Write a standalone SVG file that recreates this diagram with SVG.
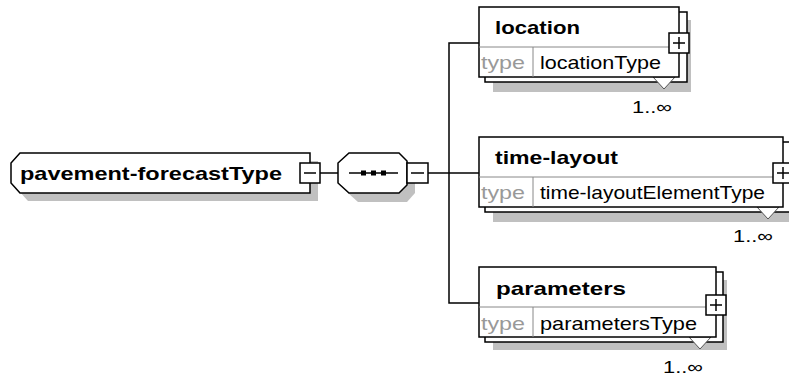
<svg xmlns="http://www.w3.org/2000/svg" width="789" height="378" viewBox="0 0 789 378">
<style>
.shadow{fill:#c0c0c0;stroke:none}
.box{fill:#fff;stroke:#000;stroke-width:1.5}
.sep{stroke:#888;stroke-width:1;fill:none}
.title{font-family:"Liberation Sans",Arial,sans-serif;font-weight:bold;font-size:19px;fill:#000}
.tlabel{font-family:"Liberation Sans",Arial,sans-serif;font-size:19px;fill:#999}
.tval{font-family:"Liberation Sans",Arial,sans-serif;font-size:19px;fill:#000}
.mult{font-family:"Liberation Sans",Arial,sans-serif;font-size:17px;fill:#000}
.btn{fill:#fff;stroke:#000;stroke-width:1.5}
.sign{stroke:#000;stroke-width:1.5;fill:none}
.conn{stroke:#000;stroke-width:1.5;fill:none}
.tri{fill:#fff;stroke:#555;stroke-width:1}
</style>
<g id="connectors">
<line class="conn" x1="320" y1="173" x2="338" y2="173"/>
<line class="conn" x1="428" y1="173" x2="479" y2="173"/>
<polyline class="conn" points="479,43 449,43 449,303 479,303"/>
</g>
<g id="root">
<polygon class="shadow" points="28,161 318,161 318,201 28,201 19,191 19,171"/>
<polygon class="box" points="20,153 310,153 310,193 20,193 11,183 11,163"/>
<text class="title" x="20" y="180" textLength="262" lengthAdjust="spacingAndGlyphs">pavement-forecastType</text>
<rect class="btn" x="300" y="163" width="20" height="20"/>
<line class="sign" x1="304" y1="173" x2="316" y2="173"/>
</g>
<g id="sequence">
<polygon class="shadow" points="358,161 407,161 415,169 415,193 407,202 358,202 348,193 348,171"/>
<polygon class="box" points="349,153 399,153 407,161 407,185 399,193 349,193 338,183 338,163"/>
<line class="sign" x1="349" y1="173" x2="398" y2="173"/>
<rect x="361" y="170.5" width="5" height="5" fill="#000"/>
<rect x="371" y="170.5" width="5" height="5" fill="#000"/>
<rect x="381" y="170.5" width="5" height="5" fill="#000"/>
<rect class="btn" x="407" y="163" width="21" height="20"/>
<line class="sign" x1="411" y1="173" x2="424" y2="173"/>
</g>
<g id="location">
<rect class="shadow" x="493" y="20" width="198" height="72"/>
<rect class="box" x="485" y="12" width="202" height="70"/>
<polygon class="tri" points="653,77 664,89 675,77"/>
<rect class="box" x="479" y="7" width="200" height="70"/>
<line class="sep" x1="479" y1="47" x2="679" y2="47"/>
<line class="sep" x1="533" y1="47" x2="533" y2="77"/>
<text class="title" x="495" y="34" textLength="85" lengthAdjust="spacingAndGlyphs">location</text>
<text class="tlabel" x="481" y="69" textLength="44" lengthAdjust="spacingAndGlyphs">type</text>
<text class="tval" x="540" y="69" textLength="121" lengthAdjust="spacingAndGlyphs">locationType</text>
<rect class="btn" x="669" y="33" width="20" height="20"/>
<line class="sign" x1="673" y1="43" x2="685" y2="43"/>
<line class="sign" x1="679" y1="37" x2="679" y2="49"/>
<text class="mult" x="632" y="113" textLength="40" lengthAdjust="spacingAndGlyphs">1..∞</text>
</g>
<g id="time-layout">
<rect class="shadow" x="493" y="150" width="300" height="72"/>
<rect class="box" x="485" y="142" width="310" height="70"/>
<polygon class="tri" points="757,207 768,219 779,207"/>
<rect class="box" x="479" y="137" width="304" height="70"/>
<line class="sep" x1="479" y1="177" x2="783" y2="177"/>
<line class="sep" x1="533" y1="177" x2="533" y2="207"/>
<text class="title" x="495" y="164" textLength="123" lengthAdjust="spacingAndGlyphs">time-layout</text>
<text class="tlabel" x="481" y="199" textLength="44" lengthAdjust="spacingAndGlyphs">type</text>
<text class="tval" x="540" y="199" textLength="225" lengthAdjust="spacingAndGlyphs">time-layoutElementType</text>
<rect class="btn" x="773" y="163" width="20" height="20"/>
<line class="sign" x1="777" y1="173" x2="789" y2="173"/>
<line class="sign" x1="783" y1="167" x2="783" y2="179"/>
<text class="mult" x="733" y="242" textLength="40" lengthAdjust="spacingAndGlyphs">1..∞</text>
</g>
<g id="parameters">
<rect class="shadow" x="493" y="280" width="234" height="70"/>
<rect class="box" x="485" y="272" width="238" height="70"/>
<polygon class="tri" points="689,337 700,349 711,337"/>
<rect class="box" x="479" y="267" width="237" height="70"/>
<line class="sep" x1="479" y1="307" x2="716" y2="307"/>
<line class="sep" x1="533" y1="307" x2="533" y2="337"/>
<text class="title" x="496" y="295" textLength="130" lengthAdjust="spacingAndGlyphs">parameters</text>
<text class="tlabel" x="481" y="330" textLength="44" lengthAdjust="spacingAndGlyphs">type</text>
<text class="tval" x="540" y="330" textLength="157" lengthAdjust="spacingAndGlyphs">parametersType</text>
<rect class="btn" x="706" y="295" width="20" height="20"/>
<line class="sign" x1="710" y1="305" x2="722" y2="305"/>
<line class="sign" x1="716" y1="299" x2="716" y2="311"/>
<text class="mult" x="663" y="373" textLength="40" lengthAdjust="spacingAndGlyphs">1..∞</text>
</g>
</svg>
